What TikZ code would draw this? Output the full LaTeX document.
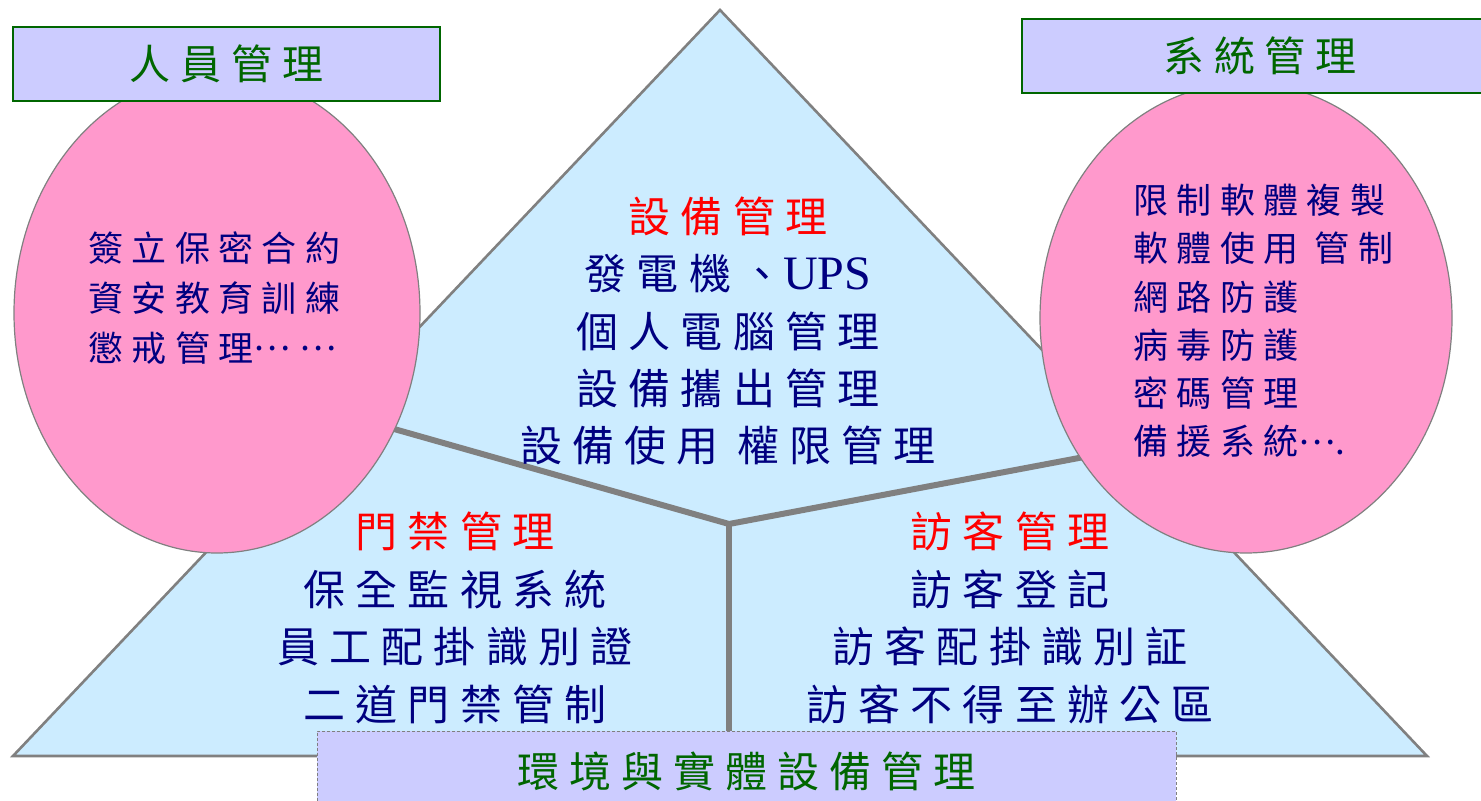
\documentclass[tikz,border=0pt]{standalone}
\usepackage{fontspec}
\usetikzlibrary{shapes.geometric}
\newfontfamily\cjk[LetterSpace=24]{Noto Sans CJK TC}
\newfontfamily\upsfont{Liberation Serif}
\newcommand{\middots}[1]{\raisebox{0.3em}{#1}}
\definecolor{trifill}{HTML}{CCECFF}
\definecolor{pinkfill}{HTML}{FF99CC}
\definecolor{boxfill}{HTML}{CCCCFF}
\definecolor{hdrgreen}{HTML}{006600}
\definecolor{navy}{HTML}{000080}
\definecolor{titlered}{HTML}{FF0000}
\definecolor{linegray}{HTML}{808080}
\begin{document}
\begin{tikzpicture}[x=0.5pt,y=-0.5pt,
  triangle/.style={draw=linegray,line width=1.3pt,fill=trifill,line join=miter},
  divider/.style={draw=linegray,line width=3pt},
  pinkell/.style={ellipse,draw=linegray,line width=0.6pt,fill=pinkfill,inner sep=0pt},
  hdrbox/.style={rectangle,draw=hdrgreen,line width=1pt,fill=boxfill,text=hdrgreen,inner sep=0pt,
    font=\cjk\fontsize{20.5}{20.5}\selectfont},
  envbox/.style={rectangle,draw=linegray,line width=0.5pt,dash pattern=on 1.5pt off 1pt,fill=boxfill,
    text=hdrgreen,inner sep=0pt,font=\cjk\fontsize{21}{21}\selectfont},
  body/.style={text=navy,align=center,inner sep=0pt,font=\cjk\fontsize{21}{28.7}\selectfont},
  elltext/.style={text=navy,align=left,inner sep=0pt,font=\cjk\fontsize{17.5}{25}\selectfont},
]
\useasboundingbox (0,0) rectangle (1481,801);
\clip (0,0) rectangle (1481,801);

% triangle
\coordinate (apex) at (720,10);
\coordinate (bl) at (13,756);
\coordinate (br) at (1427,756);
\draw[triangle] (apex) -- (br) -- (bl) -- cycle;

% dividers
\coordinate (ctr) at (729,524);
\coordinate (lend) at (380,425);
\coordinate (rend) at (1100,454);
\coordinate (bend) at (729,745);
\draw[divider] (lend) -- (ctr) -- (rend);
\draw[divider] (ctr) -- (bend);

% ellipses
\node[pinkell,minimum width=203pt,minimum height=240pt] (pl) at (217,313) {};
\node[pinkell,minimum width=206pt,minimum height=235pt] (pr) at (1246,318) {};

\node[elltext,anchor=west] (plt) at (88,298) {簽立保密合約\\資安教育訓練\\懲戒管理\middots{……}};
\node[elltext,anchor=west,font=\cjk\fontsize{17.5}{24.1}\selectfont] (prt) at (1133,321)
  {限制軟體複製\\軟體使用 管制\\網路防護\\病毒防護\\密碼管理\\備援系統\middots{…}.};

% centre texts
\node[body] (equip) at (728,331) {{\color{titlered}設備管理}\\發電機、{\upsfont\fontsize{24}{28.7}\selectfont UPS}\\個人電腦管理\\設備攜出管理\\設備使用 權限管理};
\node[body] (door) at (455,618) {{\color{titlered}門禁管理}\\保全監視系統\\員工配掛識別證\\二道門禁管制};
\node[body] (visit) at (1010,618) {{\color{titlered}訪客管理}\\訪客登記\\訪客配掛識別証\\訪客不得至辦公區};

% header boxes
\node[hdrbox,minimum width=213.5pt,minimum height=37pt] (people) at (226.5,64) {人員管理};
\node[hdrbox,minimum width=238pt,minimum height=37pt] (system) at (1260,56) {系統管理};
\node[envbox,minimum width=429.5pt,minimum height=40pt] (env) at (746.5,771) {環境與實體設備管理};
\end{tikzpicture}
\end{document}
